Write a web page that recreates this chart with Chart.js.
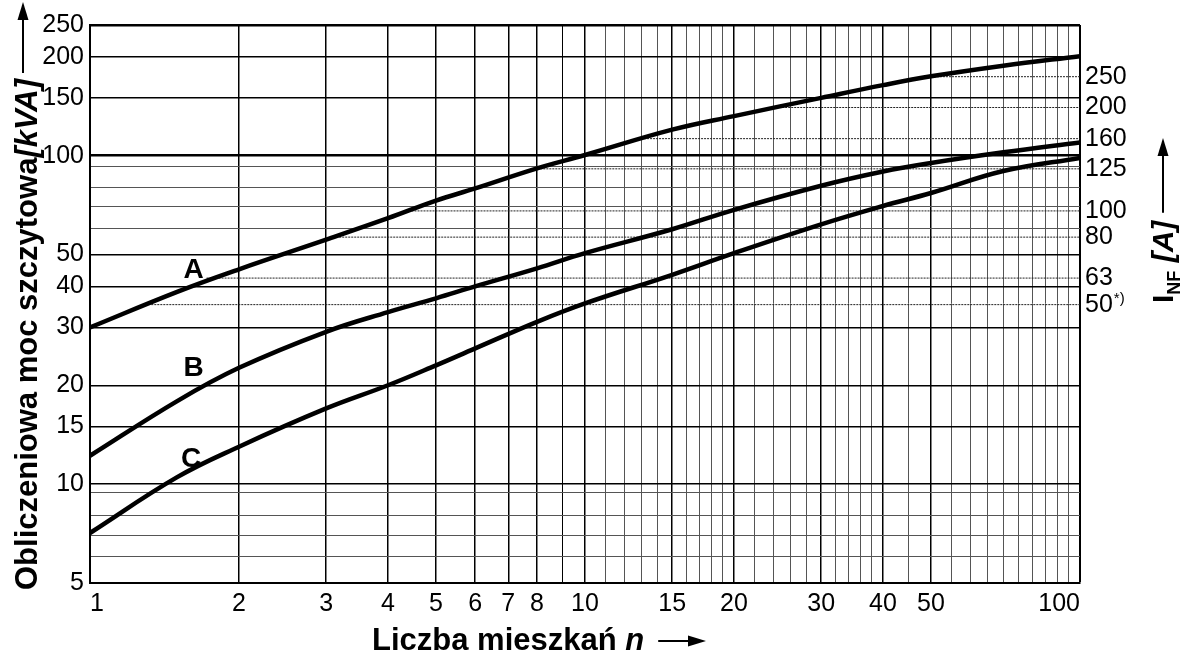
<!DOCTYPE html>
<html>
<head>
<meta charset="utf-8">
<script src="https://cdn.jsdelivr.net/npm/chart.js@4"></script>
<style>
  body { margin: 0; background: #fff; }
  #wrap { width: 1190px; height: 657px; position: relative; }
</style>
</head>
<body>
<div id="wrap"><canvas id="myChart"></canvas></div>
<script>
// liczba mieszkań n (wspólne dla krzywych)
const nPoints = [1, 1.5, 2, 3, 4, 5, 6, 8, 10, 15, 20, 30, 40, 50, 70, 100];
// moc szczytowa [kVA]
const curveA = [30, 38.5, 45.1, 55.5, 64.5, 73, 79.5, 91.5, 100.5, 120, 132, 150, 164, 174.5, 188, 201];
const curveB = [12.2, 17.9, 22.6, 29.1, 33.4, 36.8, 40, 45.4, 50.5, 59.7, 68.4, 81, 89.5, 95, 102.4, 109.8];
const curveC = [7.1, 10.5, 13, 17.0, 20, 23.0, 25.9, 31.2, 35.5, 43.4, 50.5, 61.8, 70.3, 77, 89.8, 98.5];

// prądy znamionowe (oś prawa) i odpowiadająca moc
const currentLabels = ['250', '200', '160', '125', '100', '80', '63', '50'];
const currentKva = [174, 140.2, 112.7, 91.2, 67.9, 56.5, 42.4, 35.2];
const currentStartN = [50, 24, 12.8, 7.9, 4.4, 3.1, 1.72, 1.33];

// siatka i opisy osi
const xGrid = [1, 2, 3, 4, 5, 6, 7, 8, 9, 10, 11, 12, 13, 14, 15, 16, 17, 18, 19, 20,
  22, 24, 26, 28, 30, 32, 34, 36, 38, 40, 45, 50, 55, 60, 65, 70, 75, 80, 85, 90, 95, 100];
const xLabels = [1, 2, 3, 4, 5, 6, 7, 8, 10, 15, 20, 30, 40, 50, 100];
const yGrid = [5, 6, 7, 8, 9.4, 10, 15, 20, 30, 40, 50, 60, 70, 80, 93, 100, 150, 200, 250];
const yLabels = [5, 10, 15, 20, 30, 40, 50, 100, 150, 200, 250];

const FONT = "'Liberation Sans', Arial, sans-serif";

const toPts = arr => arr.map((v, i) => ({ x: nPoints[i], y: v }));

let datasets = [
  { data: toPts(curveA), borderColor: '#000', borderWidth: 4.5, pointRadius: 0, tension: 0.4 },
  { data: toPts(curveB), borderColor: '#000', borderWidth: 4.5, pointRadius: 0, tension: 0.4 },
  { data: toPts(curveC), borderColor: '#000', borderWidth: 4.5, pointRadius: 0, tension: 0.4 }
];
currentKva.forEach((v, i) => {
  datasets.push({
    data: [{ x: currentStartN[i], y: v }, { x: 100, y: v }],
    borderColor: '#222', borderWidth: 1, borderDash: [2, 1], pointRadius: 0
  });
});

function drawParts(ctx, parts, x, y) {
  parts.forEach(p => {
    ctx.font = p.font;
    ctx.fillText(p.text, x, y + (p.dy || 0));
    x += ctx.measureText(p.text).width;
  });
  return x;
}

function arrow(ctx, x1, y, x2) {
  ctx.beginPath();
  ctx.lineWidth = 2;
  ctx.moveTo(x1, y);
  ctx.lineTo(x2 - 14, y);
  ctx.stroke();
  ctx.beginPath();
  ctx.moveTo(x2, y);
  ctx.lineTo(x2 - 18, y - 5.5);
  ctx.lineTo(x2 - 18, y + 5.5);
  ctx.closePath();
  ctx.fill();
}

const textPlugin = {
  id: 'teksty',
  afterDraw(chart) {
    const ctx = chart.ctx;
    const xs = chart.scales.x, ys = chart.scales.y, yr = chart.scales.yr;
    ctx.save();
    ctx.fillStyle = '#000';
    ctx.strokeStyle = '#000';
    ctx.textBaseline = 'alphabetic';
    ctx.textAlign = 'left';

    // oś X
    let end = drawParts(ctx, [
      { text: 'Liczba mieszkań ', font: 'bold 31px ' + FONT },
      { text: 'n', font: 'bold italic 31px ' + FONT }
    ], 372, 650);
    arrow(ctx, end + 14, 641, 706);

    // oś Y lewa
    ctx.save();
    ctx.translate(37, 590);
    ctx.rotate(-Math.PI / 2);
    end = drawParts(ctx, [
      { text: 'Obliczeniowa moc szczytowa', font: 'bold 31px ' + FONT },
      { text: '[kVA]', font: 'bold italic 31px ' + FONT }
    ], 0, 0);
    arrow(ctx, end + 6, -14, 588);
    ctx.restore();

    // oś Y prawa
    ctx.save();
    ctx.translate(1173, 303);
    ctx.rotate(-Math.PI / 2);
    end = drawParts(ctx, [
      { text: 'I', font: 'bold 30px ' + FONT },
      { text: 'NF', font: 'bold 18px ' + FONT, dy: 7 },
      { text: ' [A]', font: 'bold italic 30px ' + FONT }
    ], 0, 0);
    arrow(ctx, end + 8, -10, 165);
    ctx.restore();

    // "*)" przy 50
    ctx.font = '25px ' + FONT;
    const w50 = ctx.measureText('50').width;
    ctx.font = '15px ' + FONT;
    ctx.fillText('*)', yr.left + 6 + w50, yr.getPixelForValue(currentKva[7]) - 2);

    // litery krzywych
    ctx.font = 'bold 28px ' + FONT;
    ctx.textAlign = 'center';
    ctx.textBaseline = 'middle';
    chart.options.plugins.teksty.labels.forEach(l => {
      ctx.fillText(l.text, xs.getPixelForValue(l.n), ys.getPixelForValue(l.v));
    });
    ctx.restore();
  }
};

const gridColor = (labels) => c => labels.includes(c.tick.value) ? '#000' : '#555';
const gridWidth = (labels, heavy) => c => {
  const v = c.tick.value;
  if (heavy.includes(v)) return 2.5;
  return labels.includes(v) ? 1.5 : 1;
};

new Chart(document.getElementById('myChart'), {
  type: 'line',
  data: { datasets },
  plugins: [textPlugin],
  options: {
    responsive: true,
    maintainAspectRatio: false,
    animation: false,
    layout: { padding: { top: 25, left: 0, right: 0, bottom: 0 } },
    plugins: {
      legend: { display: false },
      tooltip: { enabled: false },
      teksty: {
        labels: [
          { text: 'A', n: 1.62, v: 44.8 },
          { text: 'B', n: 1.62, v: 22.5 },
          { text: 'C', n: 1.6, v: 11.9 }
        ]
      }
    },
    scales: {
      x: {
        type: 'logarithmic',
        min: 1, max: 100,
        afterBuildTicks: s => { s.ticks = xGrid.map(v => ({ value: v })); },
        afterFit: s => { s.height = 74; },
        ticks: {
          autoSkip: false, maxRotation: 0, minRotation: 0, padding: 6, align: 'inner',
          color: '#000', font: { family: FONT, size: 25 },
          callback: v => xLabels.includes(v) ? String(v) : ''
        },
        grid: {
          drawTicks: false,
          color: c => (xLabels.includes(c.tick.value) || c.tick.value === 9) ? '#000' : '#555',
          lineWidth: c => c.tick.value === 100 ? 2 : (xLabels.includes(c.tick.value) ? 1.5 : 1)
        },
        border: { color: '#000', width: 2 }
      },
      y: {
        type: 'logarithmic',
        position: 'left',
        min: 5, max: 250,
        afterBuildTicks: s => { s.ticks = yGrid.map(v => ({ value: v })); },
        afterFit: s => { s.width = 90; },
        ticks: {
          autoSkip: false, padding: 6,
          color: '#000', font: { family: FONT, size: 25 },
          callback: v => yLabels.includes(v) ? String(v) : ''
        },
        grid: {
          drawTicks: false,
          color: gridColor(yLabels),
          lineWidth: gridWidth(yLabels, [100, 250])
        },
        border: { color: '#000', width: 2 }
      },
      yr: {
        type: 'logarithmic',
        position: 'right',
        min: 5, max: 250,
        afterBuildTicks: s => { s.ticks = currentKva.map(v => ({ value: v })); },
        afterFit: s => { s.width = 110; },
        ticks: {
          autoSkip: false, padding: 5,
          color: '#000', font: { family: FONT, size: 25 },
          callback: v => currentLabels[currentKva.indexOf(v)]
        },
        grid: { display: false, drawTicks: false },
        border: { display: false }
      }
    }
  }
});
</script>
</body>
</html>
